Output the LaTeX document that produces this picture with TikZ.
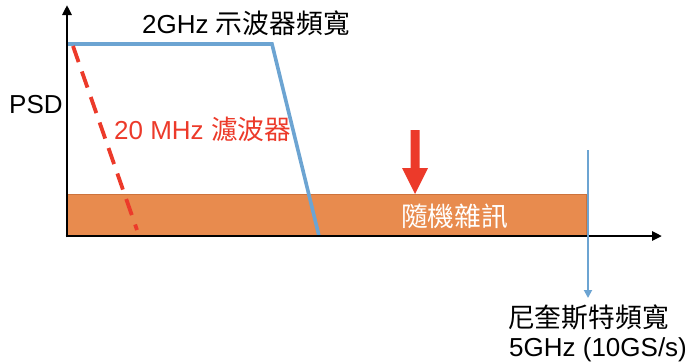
\documentclass[tikz,border=0pt]{standalone}
\usepackage{fontspec}
\setmainfont{Liberation Sans}
\newfontfamily\cjk{Noto Sans CJK TC}[Scale=1.03]
\usetikzlibrary{arrows.meta}
\definecolor{cblue}{RGB}{108,164,210}
\definecolor{corange}{RGB}{232,139,78}
\definecolor{corangedk}{RGB}{205,115,60}
\definecolor{cred}{RGB}{236,58,42}
\tikzset{
  lbl/.style={anchor=base west,inner sep=0pt,font=\fontsize{26}{31}\selectfont},
  axis/.style={line width=2.6pt,-{Triangle[length=10pt,width=9pt]}},
  band/.style={line width=3.6pt,cblue,line join=miter},
}
\begin{document}
\begin{tikzpicture}[x=1pt,y=-1pt]
\useasboundingbox (0,0) rectangle (697,362);
% noise band
\node[draw=corangedk,fill=corange,line width=0.8pt,inner sep=0pt,
      minimum width=518.2pt,minimum height=41.2pt,anchor=north west] (noiseband) at (67.4,194.4) {};
% coordinates
\coordinate (Ytop) at (67,5);
\coordinate (Xend) at (662,236);
\coordinate (B1) at (68,44);
\coordinate (B2) at (272,44);
\coordinate (B3) at (319,236);
\coordinate (R1) at (73,46);
\coordinate (R2) at (137,230);
\coordinate (N1) at (588,150);
\coordinate (N2) at (588,298);
% scope band
\draw[band] (B1) -- (B2) -- (B3);
% red dashed filter
\draw[cred,line width=3.8pt,dash pattern=on 17pt off 10pt] (R1) -- (R2);
% axes
\draw[axis] (67,237.3) -- (Ytop);
\draw[axis] (65.7,236) -- (Xend);
% nyquist arrow
\draw[cblue,line width=1.8pt,-{Triangle[length=8pt,width=8pt]}] (N1) -- (N2);
% red arrow
\fill[cred] (410.5,130) -- (419.5,130) -- (419.5,168) -- (428,168) -- (415,194) -- (402,168) -- (410.5,168) -- cycle;
% labels
\node[lbl] (psd) at (9,113) {PSD};
\node[lbl] (scope) at (142,33) {2GHz {\cjk 示波器頻寬}};
\node[lbl,text=cred] (filt) at (114,139) {20 MHz {\cjk 濾波器}};
\node[lbl,text=white] (noise) at (401,226) {\cjk 隨機雜訊};
\node[lbl] (nyq) at (508,327) {\cjk 尼奎斯特頻寬};
\node[lbl] (nyq2) at (509,356) {5GHz (10GS/s)};
\end{tikzpicture}
\end{document}
